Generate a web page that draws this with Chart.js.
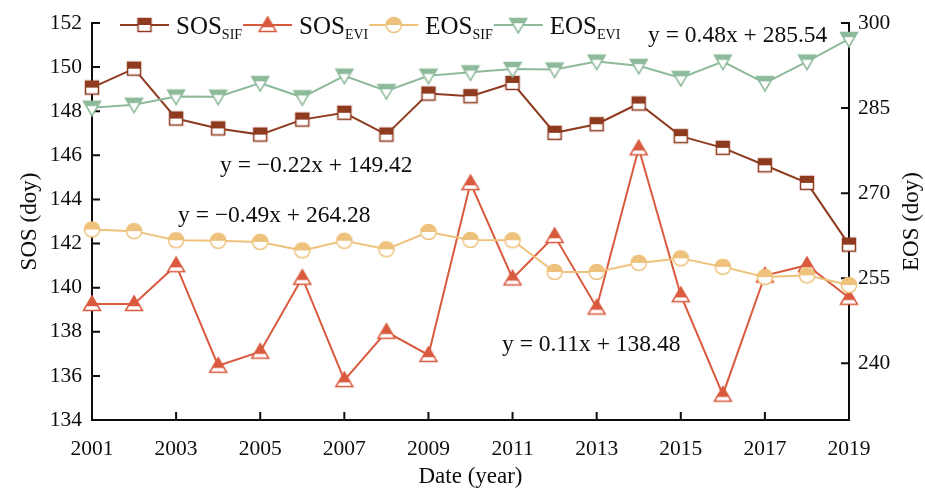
<!DOCTYPE html>
<html>
<head>
<meta charset="utf-8">
<script src="https://cdn.jsdelivr.net/npm/chart.js@4.4.1/dist/chart.umd.min.js"></script>
<style>
  html, body { margin: 0; padding: 0; background: #fff; }
  canvas { display: block; }
</style>
</head>
<body>
<canvas id="chart" width="925" height="491"></canvas>
<script>
// Years on the x axis
const years = ['2001','2002','2003','2004','2005','2006','2007','2008','2009','2010',
               '2011','2012','2013','2014','2015','2016','2017','2018','2019'];

// Start of season (day of year), left axis
const sosSif = [149.07, 149.93, 147.67, 147.22, 146.94, 147.62, 147.93, 146.94, 148.80, 148.68,
                149.28, 147.02, 147.41, 148.35, 146.87, 146.34, 145.55, 144.75, 141.95];
const sosEvi = [139.26, 139.26, 141.02, 136.46, 137.10, 140.45, 135.81, 138.00, 136.95, 144.74,
                140.42, 142.34, 139.10, 146.32, 139.66, 135.15, 140.55, 141.02, 139.54];

// End of season (day of year), right axis
const eosSif = [263.6, 263.3, 261.7, 261.6, 261.4, 259.9, 261.6, 260.1, 263.15, 261.75,
                261.7, 256.1, 256.1, 257.7, 258.5, 257.0, 255.2, 255.5, 253.8];
const eosEvi = [285.05, 285.58, 287.04, 287.0, 289.4, 286.9, 290.7, 288.0, 290.7, 291.3,
                291.9, 291.8, 293.2, 292.45, 290.3, 293.2, 289.4, 293.2, 297.2];

// Series names: main text and subscript
const seriesMain = ['SOS', 'SOS', 'EOS', 'EOS'];
const seriesSub = ['SIF', 'EVI', 'SIF', 'EVI'];

// Linear trend equations
const trendText = ['y = 0.48x + 285.54', 'y = \u22120.22x + 149.42', 'y = \u22120.49x + 264.28', 'y = 0.11x + 138.48'];

// Axis ranges and titles
const sosRange = [134, 152];
const eosRange = [230, 300];
const sosTitle = 'SOS (doy)';
const eosTitle = 'EOS (doy)';
const xTitle = 'Date (year)';

const FONT = "'Liberation Serif', 'Times New Roman', serif";
const INK = '#0d0d0d';
const COLORS = ['#8e3b1f', '#d95a3e', '#eec27c', '#8dba9a'];
const SHAPES = ['square', 'up', 'circle', 'down'];

// Half-filled marker: upper half in the series colour, lower half white
function halfMarker(shape, color) {
  const s = 22, m = s / 2;
  const c = document.createElement('canvas');
  c.width = s; c.height = s;
  const g = c.getContext('2d');
  let cut = m;
  const path = () => {
    g.beginPath();
    if (shape === 'square') {
      g.rect(m - 6.5, m - 6.5, 13, 13);
    } else if (shape === 'circle') {
      g.arc(m, m, 7.6, 0, Math.PI * 2);
    } else if (shape === 'up') {
      g.moveTo(m, m - 8); g.lineTo(m + 8.5, m + 6.5); g.lineTo(m - 8.5, m + 6.5); g.closePath();
    } else {
      g.moveTo(m - 8.5, m - 6.5); g.lineTo(m + 8.5, m - 6.5); g.lineTo(m, m + 8); g.closePath();
    }
  };
  if (shape === 'up') cut = (m - 8) + 14.5 * 0.70;
  if (shape === 'down') cut = (m - 6.5) + 14.5 * 0.32;
  path(); g.fillStyle = '#fff'; g.fill();
  g.save();
  g.beginPath(); g.rect(0, 0, s, cut); g.clip();
  path(); g.fillStyle = color; g.fill();
  g.restore();
  path(); g.lineWidth = 1.5; g.strokeStyle = color; g.stroke();
  return c;
}
const markers = SHAPES.map((sh, i) => halfMarker(sh, COLORS[i]));

function series(i, data, axis, order) {
  return {
    label: seriesMain[i] + seriesSub[i],
    data: data,
    yAxisID: axis,
    order: order,
    borderColor: COLORS[i],
    backgroundColor: COLORS[i],
    borderWidth: 2,
    pointStyle: markers[i],
    pointRadius: 8,
    pointHoverRadius: 8,
    tension: 0
  };
}

// Inward tick marks on all three axes
const inwardTicks = {
  id: 'inwardTicks',
  beforeDatasetsDraw(chart) {
    const { ctx, chartArea: a, scales } = chart;
    const len = 8;
    ctx.save();
    ctx.strokeStyle = INK;
    ctx.lineWidth = 2;
    ctx.beginPath();
    scales.y.ticks.forEach(t => {
      const py = scales.y.getPixelForValue(t.value);
      ctx.moveTo(a.left, py); ctx.lineTo(a.left + len, py);
    });
    scales.y1.ticks.forEach(t => {
      const py = scales.y1.getPixelForValue(t.value);
      ctx.moveTo(a.right, py); ctx.lineTo(a.right - len, py);
    });
    scales.x.ticks.forEach((t, i) => {
      if (i % 2 !== 0) return;
      const px = scales.x.getPixelForTick(i);
      ctx.moveTo(px, a.bottom); ctx.lineTo(px, a.bottom - len);
    });
    ctx.stroke();
    ctx.restore();
  }
};

// Legend row with subscripted names, right-axis title and trend equations
const overlay = {
  id: 'overlay',
  afterDraw(chart) {
    const { ctx, chartArea: a } = chart;
    ctx.save();
    // legend
    let x = 120;
    const ly = 25;
    for (let i = 0; i < 4; i++) {
      ctx.strokeStyle = COLORS[i];
      ctx.lineWidth = 2;
      ctx.beginPath(); ctx.moveTo(x, ly); ctx.lineTo(x + 49, ly); ctx.stroke();
      const mk = markers[i];
      ctx.drawImage(mk, x + 24.5 - mk.width / 2, ly - mk.height / 2);
      x += 56;
      ctx.fillStyle = INK;
      ctx.textBaseline = 'alphabetic';
      ctx.textAlign = 'left';
      ctx.font = '25px ' + FONT;
      ctx.fillText(seriesMain[i], x, 33.5);
      x += ctx.measureText(seriesMain[i]).width;
      ctx.font = '14px ' + FONT;
      ctx.fillText(seriesSub[i], x, 38.5);
      x += ctx.measureText(seriesSub[i]).width + 1;
    }
    // right axis title, reading bottom to top
    ctx.font = '23px ' + FONT;
    ctx.fillStyle = INK;
    ctx.textAlign = 'center';
    ctx.textBaseline = 'middle';
    ctx.translate(912, (a.top + a.bottom) / 2);
    ctx.rotate(-Math.PI / 2);
    ctx.fillText(eosTitle, 0, 0);
    ctx.restore();

    // trend equations
    ctx.save();
    ctx.font = '23.5px ' + FONT;
    ctx.fillStyle = INK;
    ctx.textAlign = 'left';
    ctx.textBaseline = 'alphabetic';
    const spots = [[648, 41.5], [220, 171.5], [178, 221.5], [502, 350.5]];
    trendText.forEach((t, i) => ctx.fillText(t, spots[i][0], spots[i][1]));
    ctx.restore();
  }
};

Chart.defaults.font.family = FONT;
Chart.defaults.color = INK;

new Chart(document.getElementById('chart'), {
  type: 'line',
  data: {
    labels: years,
    datasets: [
      series(0, sosSif, 'y', 3),
      series(1, sosEvi, 'y', 2),
      series(2, eosSif, 'y1', 1),
      series(3, eosEvi, 'y1', 0)
    ]
  },
  options: {
    responsive: false,
    animation: false,
    devicePixelRatio: 1,
    events: [],
    layout: { padding: { top: 23, left: 0, right: 0, bottom: 0 } },
    plugins: { legend: { display: false }, tooltip: { enabled: false } },
    scales: {
      x: {
        type: 'category',
        offset: false,
        grid: { display: false, drawTicks: false },
        border: { display: true, color: INK, width: 2 },
        ticks: {
          autoSkip: false, maxRotation: 0, padding: 16,
          font: { size: 21.5 },
          callback: function (v, i) { return i % 2 === 0 ? this.getLabelForValue(v) : ''; }
        },
        title: { display: true, text: xTitle, font: { size: 23 }, padding: { top: 0, bottom: 0 } },
        afterFit: s => { s.height = 71; }
      },
      y: {
        position: 'left',
        min: sosRange[0], max: sosRange[1],
        grid: { display: false, drawTicks: false },
        border: { display: true, color: INK, width: 2 },
        ticks: { stepSize: 2, padding: 10, font: { size: 21.5 } },
        title: { display: true, text: sosTitle, font: { size: 23 }, padding: { top: 16, bottom: 0 } },
        afterFit: s => { s.width = 92; }
      },
      y1: {
        position: 'right',
        min: eosRange[0], max: eosRange[1],
        grid: { display: false, drawTicks: false },
        border: { display: true, color: INK, width: 2 },
        ticks: { stepSize: 15, includeBounds: false, padding: 9, font: { size: 21.5 } },
        afterFit: s => { s.width = 76; }
      }
    }
  },
  plugins: [inwardTicks, overlay]
});
</script>
</body>
</html>
